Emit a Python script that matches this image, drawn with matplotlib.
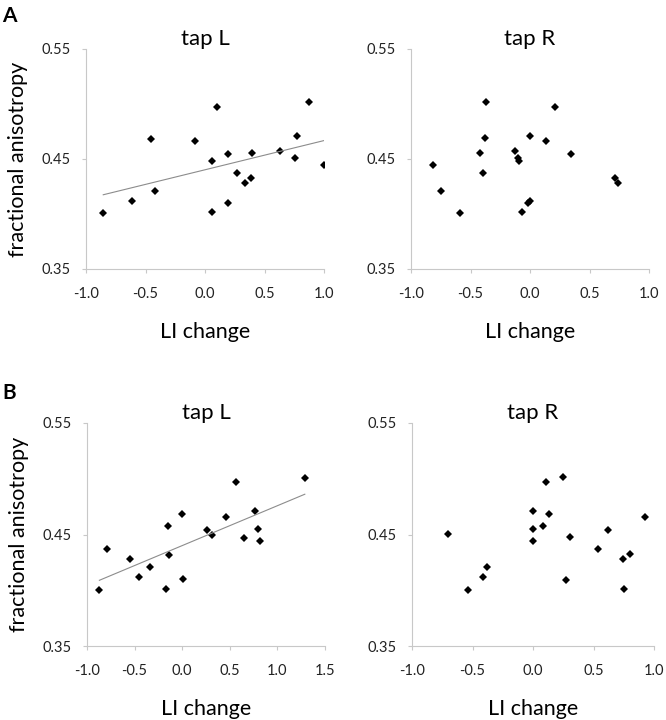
import matplotlib
matplotlib.use("Agg")
import matplotlib.pyplot as plt
import numpy as np

plt.rcParams['font.family'] = ['Lato', 'DejaVu Sans']

# panel A, tap L
a_left_x = [-0.855, -0.614, -0.455, -0.424, -0.085, 0.057, 0.099, 0.055, 0.197, 0.197,
            0.267, 0.334, 0.387, 0.399, 0.628, 0.754, 0.773, 0.874, 1.0]
a_left_y = [0.4006, 0.4121, 0.4685, 0.4212, 0.4664, 0.4479, 0.4976, 0.4018, 0.4545, 0.410,
            0.4373, 0.4282, 0.4324, 0.4552, 0.4576, 0.4506, 0.4712, 0.5015, 0.4445]

# panel A, tap R
a_right_x = [-0.818, -0.745, -0.589, -0.418, -0.393, -0.379, -0.368, -0.127, -0.102, -0.094,
             -0.066, -0.015, 0.001, -0.001, 0.136, 0.214, 0.348, 0.712, 0.737]
a_right_y = [0.4445, 0.4212, 0.4006, 0.4552, 0.4373, 0.4688, 0.5015, 0.4576, 0.4509, 0.4479,
             0.4018, 0.410, 0.4121, 0.4712, 0.4664, 0.4976, 0.4545, 0.4324, 0.4282]

# panel B, tap L
b_left_x = [-0.870, -0.793, -0.547, -0.456, -0.337, -0.175, -0.144, -0.140, 0.0, 0.011,
            0.260, 0.316, 0.463, 0.568, 0.649, 0.768, 0.793, 0.814, 1.288]
b_left_y = [0.3999, 0.4366, 0.4279, 0.4118, 0.4207, 0.4013, 0.4572, 0.4318, 0.4682, 0.4097,
            0.4539, 0.450, 0.4658, 0.4969, 0.4473, 0.4707, 0.4545, 0.444, 0.501]

# panel B, tap R
b_right_x = [-0.702, -0.534, -0.413, -0.377, 0.003, 0.003, 0.003, 0.085, 0.105, 0.132,
             0.248, 0.270, 0.309, 0.534, 0.617, 0.741, 0.749, 0.799, 0.928]
b_right_y = [0.4503, 0.3999, 0.4118, 0.4207, 0.4712, 0.4548, 0.444, 0.4575, 0.4975, 0.4685,
             0.5016, 0.4094, 0.4476, 0.4369, 0.4542, 0.4279, 0.401, 0.4321, 0.4661]

y_ticks = [0.35, 0.45, 0.55]
x_ticks_short = [-1.0, -0.5, 0.0, 0.5, 1.0]
x_ticks_long = [-1.0, -0.5, 0.0, 0.5, 1.0, 1.5]

W, H = 666, 720
fig = plt.figure(figsize=(W / 100, H / 100), dpi=100)


def make_axes(px_left, px_top, px_w, px_h):
    return fig.add_axes([px_left / W, 1 - (px_top + px_h) / H, px_w / W, px_h / H])


def draw_panel(ax, x, y, title, xticks, trend, ylabel):
    ax.plot(x, y, 'D', color='black', markersize=4, markeredgewidth=0)
    if trend:
        # linear trendline over the data range
        k, b = np.polyfit(x, y, 1)
        xs = np.array([min(x), max(x)])
        ax.plot(xs, k * xs + b, color='#8c8c8c', linewidth=0.8)
    ax.set_xlim(xticks[0], xticks[-1])
    ax.set_ylim(0.35, 0.55)
    ax.set_xticks(xticks)
    ax.set_yticks(y_ticks)
    ax.set_xticklabels(['%.1f' % t for t in xticks])
    ax.set_yticklabels(['%.2f' % t for t in y_ticks])
    for s in ['top', 'right']:
        ax.spines[s].set_visible(False)
    for s in ['left', 'bottom']:
        ax.spines[s].set_color('#c8c8c8')
        ax.spines[s].set_linewidth(0.8)
    ax.tick_params(axis='x', length=3, width=0.8, color='#c8c8c8', pad=10,
                   labelsize=10.5, labelcolor='#222222')
    ax.tick_params(axis='y', length=3, width=0.8, color='#c8c8c8', pad=8,
                   labelsize=10.5, labelcolor='#222222')
    ax.set_title(title, fontsize=16, pad=2)
    ax.set_xlabel('LI change', fontsize=15.5, labelpad=15)
    if ylabel:
        ax.set_ylabel('fractional anisotropy', fontsize=15.5, labelpad=10)


ax1 = make_axes(86, 49, 238, 220)
draw_panel(ax1, a_left_x, a_left_y, 'tap L', x_ticks_short, True, True)
ax2 = make_axes(411, 49, 238, 220)
draw_panel(ax2, a_right_x, a_right_y, 'tap R', x_ticks_short, False, False)
ax3 = make_axes(87, 423, 238, 223)
draw_panel(ax3, b_left_x, b_left_y, 'tap L', x_ticks_long, True, True)
ax4 = make_axes(412, 423, 242, 223)
draw_panel(ax4, b_right_x, b_right_y, 'tap R', x_ticks_short, False, False)

fig.text(2 / W, 1 - 6 / H, 'A', fontsize=15, fontweight='bold', va='top', ha='left')
fig.text(2 / W, 1 - 383 / H, 'B', fontsize=15, fontweight='bold', va='top', ha='left')

fig.savefig('out.png', dpi=100)
